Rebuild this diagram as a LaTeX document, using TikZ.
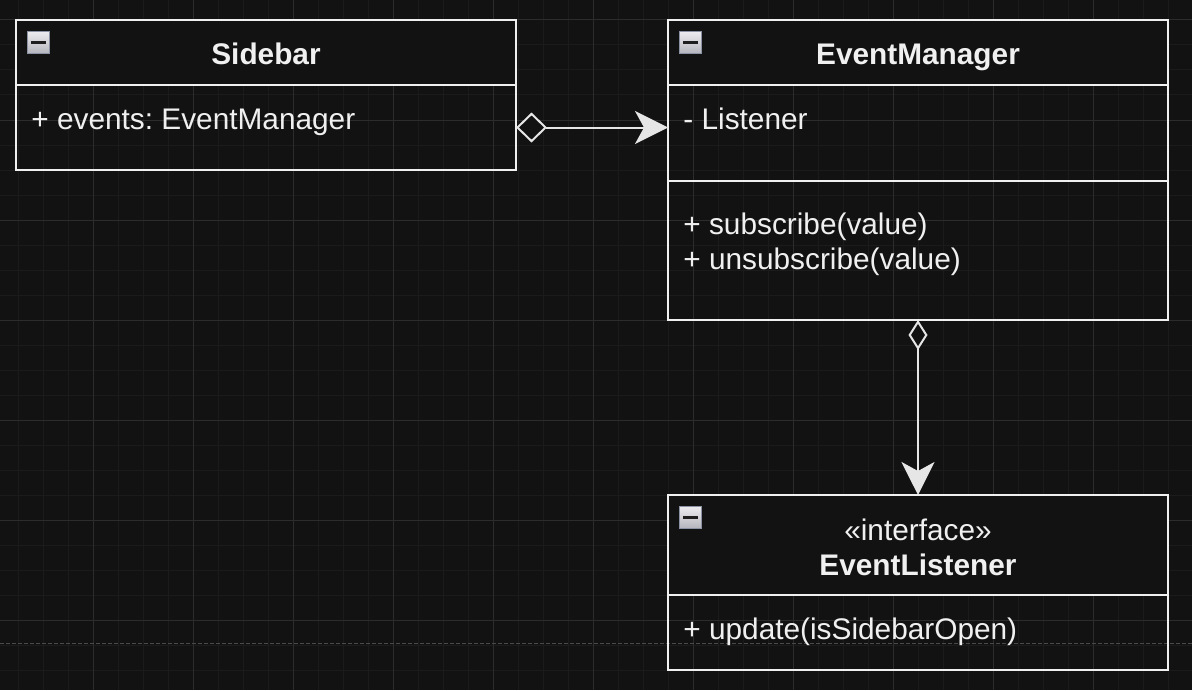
\documentclass[tikz,border=0pt]{standalone}
\usepackage{fontspec}
\setmainfont{Liberation Sans}
\usepackage{xcolor}
\usetikzlibrary{arrows.meta}
\definecolor{bgc}{HTML}{121212}
\definecolor{minorc}{HTML}{1B1B1B}
\definecolor{majorc}{HTML}{2C2C2C}
\definecolor{pagec}{HTML}{4A4A4A}
\definecolor{boxc}{HTML}{F0F0F0}
\definecolor{edgec}{HTML}{E6E6E6}
\definecolor{txtc}{HTML}{F0F0F0}
\definecolor{iconc}{HTML}{8A92A4}
\definecolor{iconhi}{HTML}{ECECF0}
\definecolor{iconlo}{HTML}{B4B4BC}
\definecolor{minusc}{HTML}{1E1E1E}
\frenchspacing

\begin{document}
\begin{tikzpicture}[x=0.5pt, y=-0.5pt,
  section/.style={draw=boxc, line width=1.1pt, minimum width=250pt,
    anchor=north west, inner sep=0pt, outer sep=0pt},
  head/.style={section, fill=bgc},
  title/.style={font=\fontsize{14.9}{17.5}\selectfont\bfseries, text=txtc,
    anchor=base, inner sep=0pt},
  member/.style={font=\fontsize{14.9}{17.5}\selectfont, text=txtc,
    anchor=base west, inner sep=0pt},
  stereo/.style={member, anchor=base},
  collapse/.style={draw=iconc, line width=0.8pt, top color=iconhi,
    bottom color=iconlo, minimum size=11pt, inner sep=0pt,
    path picture={\fill[minusc]
      ([xshift=-3.6pt,yshift=-0.7pt]path picture bounding box.center) rectangle
      ([xshift=3.6pt,yshift=0.7pt]path picture bounding box.center);}},
  aggr/.style={draw=edgec, line width=1pt,
    {Diamond[length=15.5pt, width=15pt, fill=bgc]}-{Stealth[length=16.5pt, width=16.5pt, inset=4.5pt]}},
  aggrthin/.style={aggr,
    {Diamond[length=15pt, width=9.5pt, fill=bgc]}-{Stealth[length=16.5pt, width=16.5pt, inset=4.5pt]}}]
  % canvas and grid
  \useasboundingbox (0,0) rectangle (1192,690);
  \fill[bgc] (0,0) rectangle (1192,690);
  \foreach \gx in {18,43,...,1192} \draw[minorc, line width=0.5pt] (\gx,0) -- (\gx,690);
  \foreach \gy in {20,45,...,690} \draw[minorc, line width=0.5pt] (0,\gy) -- (1192,\gy);
  \foreach \gx in {93,193,...,1192} \draw[majorc, line width=0.5pt] (\gx,0) -- (\gx,690);
  \foreach \gy in {20,120,...,690} \draw[majorc, line width=0.5pt] (0,\gy) -- (1192,\gy);
  % page break
  \draw[pagec, line width=0.5pt, dash pattern=on 2pt off 1pt] (0,643) -- (1192,643);
  % Sidebar
  \node[head, minimum height=32.5pt] (sbHead) at (16,20) {};
  \node[section, minimum height=42.5pt] (sbAttr) at (16,85) {};
  \node[collapse] (sbIcon) at (38.5,42.5) {};
  \node[title] (sbTitle) at (266,64.5) {Sidebar};
  \node[member] (sbEvents) at (31,129) {+ events: EventManager};
  % EventManager
  \node[head, minimum height=32.5pt] (emHead) at (668,20) {};
  \node[section, minimum height=48pt] (emAttr) at (668,85) {};
  \node[section, minimum height=69.5pt] (emOps) at (668,181) {};
  \node[collapse] (emIcon) at (690.5,42.5) {};
  \node[title] (emTitle) at (918,64.5) {EventManager};
  \node[member] (emListener) at (683,129) {- Listener};
  \node[member] (emSub) at (683,234.5) {+ subscribe(value)};
  \node[member] (emUnsub) at (683,269.5) {+ unsubscribe(value)};
  % EventListener
  \node[head, minimum height=50pt] (elHead) at (668,495) {};
  \node[section, minimum height=37.5pt] (elOps) at (668,595) {};
  \node[collapse] (elIcon) at (690.5,517.5) {};
  \node[stereo] (elStereo) at (918,540) {«interface»};
  \node[title] (elTitle) at (918,575) {EventListener};
  \node[member] (elUpdate) at (683,639) {+ update(isSidebarOpen)};
  % associations
  \draw[aggr] (sbAttr.east) -- (emAttr.west |- sbAttr.east);
  \draw[aggrthin] (emOps.south) -- (elHead.north);
\end{tikzpicture}
\end{document}
